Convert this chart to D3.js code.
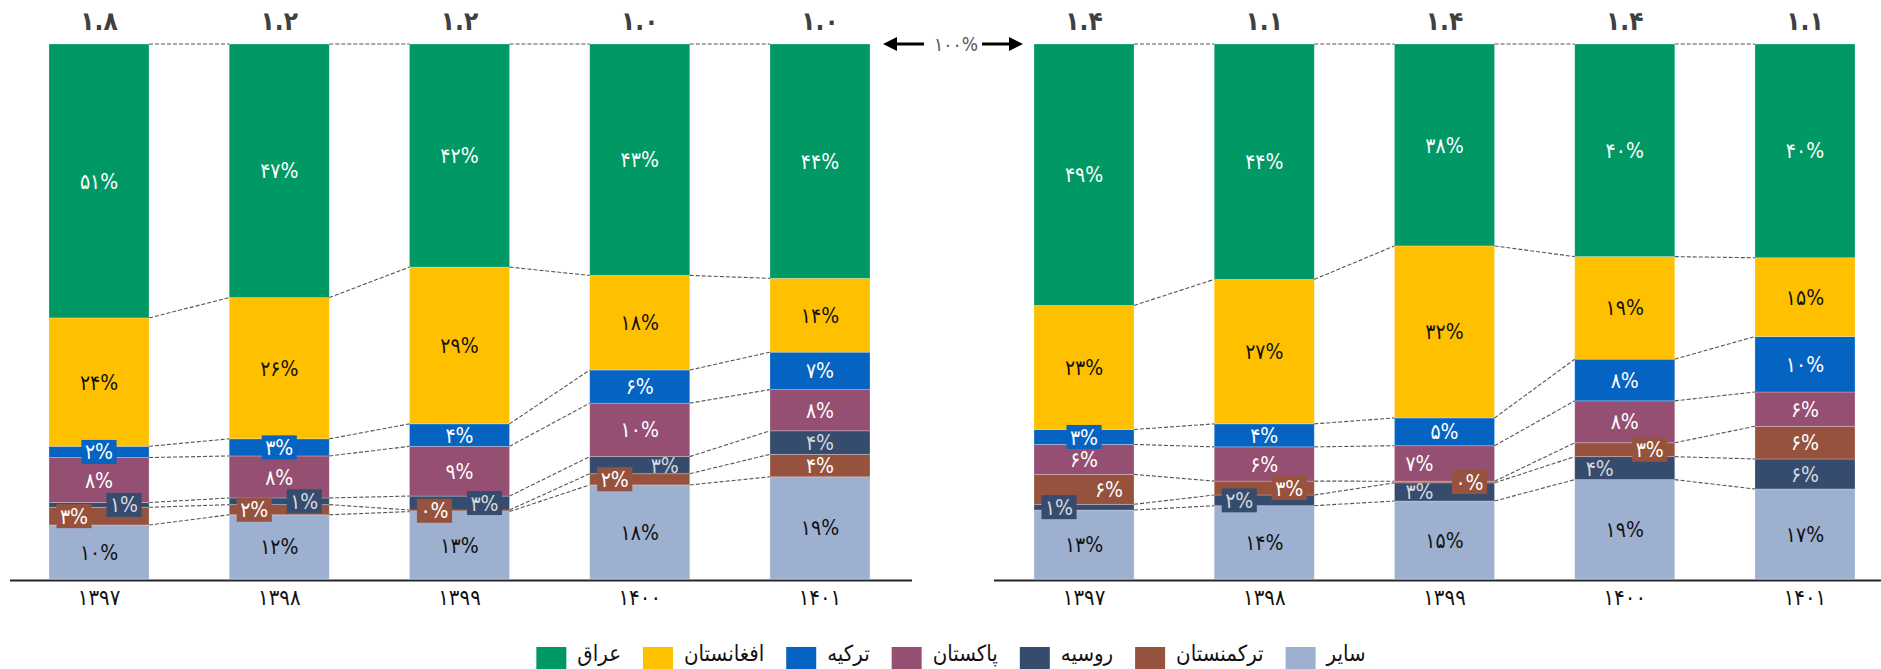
<!DOCTYPE html>
<html><head><meta charset="utf-8">
<script src="https://cdn.jsdelivr.net/npm/d3@7"></script>
<style>
html,body{margin:0;padding:0;background:#fff;}
svg{display:block;font-family:"DejaVu Sans Condensed","DejaVu Sans",sans-serif;}
</style></head>
<body>
<script>
// ---------------- DATA ----------------
const years = ["1397", "1398", "1399", "1400", "1401"];
const legendNames = ["عراق", "افغانستان", "ترکیه", "پاکستان", "روسیه", "ترکمنستان", "سایر"];
const stackOrderLeft = ["سایر", "ترکمنستان", "روسیه", "پاکستان", "ترکیه", "افغانستان", "عراق"];
const stackOrderRight = ["سایر", "روسیه", "ترکمنستان", "پاکستان", "ترکیه", "افغانستان", "عراق"];

// left panel shares (%)
const leftIraq        = [51.2, 47.4, 41.7, 43.3, 43.8];
const leftAfghanistan = [24.0, 26.4, 29.3, 17.7, 13.8];
const leftTurkey      = [2.1, 3.2, 4.2, 6.2, 7.0];
const leftPakistan    = [8.4, 7.85, 9.3, 10.0, 7.7];
const leftRussia      = [0.9, 1.25, 2.6, 3.2, 4.4];
const leftTurkmen     = [3.3, 1.9, 0.3, 2.1, 4.2];
const leftOther       = [10.1, 12.0, 12.6, 17.6, 19.1];
const leftTotals      = [1.8, 1.2, 1.2, 1.0, 1.0];

// right panel shares (%)
const rightIraq        = [48.9, 44.0, 37.8, 39.8, 39.9];
const rightAfghanistan = [23.2, 27.0, 32.2, 19.2, 14.7];
const rightTurkey      = [2.8, 4.3, 5.2, 7.8, 10.35];
const rightPakistan    = [5.6, 6.4, 6.65, 7.85, 6.4];
const rightTurkmen     = [5.6, 2.6, 0.3, 2.6, 6.1];
const rightRussia      = [1.07, 2.0, 3.4, 4.3, 5.6];
const rightOther       = [12.9, 13.7, 14.6, 18.6, 16.8];
const rightTotals      = [1.4, 1.1, 1.4, 1.4, 1.1];

const topLabel = "100%";

// ---------------- STYLE ----------------
const colors = {
  "عراق": "#009966", "افغانستان": "#FFC000", "ترکیه": "#0563C1", "پاکستان": "#954F72",
  "روسیه": "#364C6E", "ترکمنستان": "#97523D", "سایر": "#9DB0CF"
};
const textColors = {
  "عراق": "#ffffff", "افغانستان": "#111111", "ترکیه": "#ffffff", "پاکستان": "#ffffff",
  "روسیه": "#d6d9de", "ترکمنستان": "#ffffff", "سایر": "#111111"
};
// label horizontal nudges (-1 left, +1 right) and boxed labels
const leftNudge  = {"ترکمنستان": [-1,-1,-1,-1,0], "روسیه": [1,1,1,1,0]};
const rightNudge = {"روسیه": [-1,-1,-1,-1,0], "ترکمنستان": [1,1,1,1,0], "پاکستان": [0,0,-1,0,0]};
const leftBoxed  = {"ترکیه": [1,1,0,0,0], "ترکمنستان": [1,1,1,1,0], "روسیه": [1,1,1,0,0]};
const rightBoxed = {"ترکیه": [1,0,0,0,0], "ترکمنستان": [0,1,1,1,0], "روسیه": [1,1,0,0,0]};

const fa = s => String(s).replace(/[0-9]/g, d => "۰۱۲۳۴۵۶۷۸۹"[+d]);

const W = 1881, H = 669;
const svg = d3.select("body").append("svg").attr("width", W).attr("height", H);
const y = d3.scaleLinear().domain([0, 1]).range([579, 44]);

function drawPanel(cfg) {
  const g = svg.append("g");
  const x = d3.scaleBand().domain(years).range(cfg.range).paddingInner(0.445).paddingOuter(0);
  const bw = x.bandwidth();
  const rows = years.map((yr, i) => {
    const r = {year: yr};
    cfg.order.forEach(s => r[s] = cfg.values[s][i]);
    return r;
  });
  const stack = d3.stack().keys(cfg.order).offset(d3.stackOffsetExpand)(rows);

  // bars
  g.append("g").selectAll("g").data(stack).join("g")
    .attr("fill", d => colors[d.key])
    .selectAll("rect").data(d => d).join("rect")
    .attr("x", d => x(d.data.year)).attr("width", bw)
    .attr("y", d => y(d[1])).attr("height", d => y(d[0]) - y(d[1]))
    .attr("stroke", "#ffffff").attr("stroke-opacity", 0.3).attr("stroke-width", 0.8);

  // connectors
  const conn = [];
  stack.forEach(s => {
    for (let i = 0; i < years.length - 1; i++) {
      conn.push({x1: x(years[i]) + bw, y1: y(s[i][1]), x2: x(years[i + 1]), y2: y(s[i + 1][1])});
    }
  });
  g.append("g").selectAll("line").data(conn).join("line")
    .attr("x1", d => d.x1).attr("y1", d => d.y1).attr("x2", d => d.x2).attr("y2", d => d.y2)
    .attr("stroke", "#555").attr("stroke-width", 1.1).attr("stroke-dasharray", "4,2");

  // baseline
  g.append("line").attr("x1", cfg.axisX[0]).attr("x2", cfg.axisX[1])
    .attr("y1", y(0) + 1.5).attr("y2", y(0) + 1.5).attr("stroke", "#262626").attr("stroke-width", 2.2);

  // year axis
  const ax = g.append("g").attr("transform", `translate(0,${y(0) + 2})`)
    .call(d3.axisBottom(x).tickSize(0).tickPadding(8).tickFormat(fa));
  ax.select(".domain").remove();
  ax.selectAll("text").attr("font-size", 22).attr("fill", "#111")
    .attr("font-family", "'DejaVu Sans Condensed','DejaVu Sans',sans-serif");

  // totals
  g.append("g").selectAll("text").data(years).join("text")
    .attr("x", d => x(d) + bw / 2).attr("y", 21).attr("dy", "0.35em")
    .attr("text-anchor", "middle").attr("font-size", 26).attr("font-weight", "bold")
    .attr("fill", "#404040").text((d, i) => fa(cfg.totals[i].toFixed(1)));

  // segment labels
  const labels = [];
  stack.forEach(s => {
    s.forEach((d, i) => {
      const nud = (cfg.nudge[s.key] || [])[i] || 0;
      const box = (cfg.boxed[s.key] || [])[i] || 0;
      labels.push({
        key: s.key, box,
        cx: x(d.data.year) + bw / 2 + nud * 25,
        cy: (y(d[0]) + y(d[1])) / 2,
        text: fa(Math.round(cfg.values[s.key][i])) + "%"
      });
    });
  });
  const lg = g.append("g").selectAll("g").data(labels).join("g");
  lg.each(function(d) {
    const gg = d3.select(this);
    const t = gg.append("text").attr("x", d.cx).attr("y", d.cy).attr("dy", "0.36em")
      .attr("text-anchor", "middle").attr("font-size", 21).attr("fill", textColors[d.key]).text(d.text);
    if (d.box) {
      const w = t.node().getComputedTextLength() + 7;
      gg.insert("rect", "text").attr("x", d.cx - w / 2).attr("y", d.cy - 12)
        .attr("width", w).attr("height", 24).attr("fill", colors[d.key]);
    }
  });
  return x;
}

const xL = drawPanel({
  range: [49, 870], axisX: [10, 912], order: stackOrderLeft, totals: leftTotals,
  values: {"عراق": leftIraq, "افغانستان": leftAfghanistan, "ترکیه": leftTurkey, "پاکستان": leftPakistan,
           "روسیه": leftRussia, "ترکمنستان": leftTurkmen, "سایر": leftOther},
  nudge: leftNudge, boxed: leftBoxed
});
const xR = drawPanel({
  range: [1034, 1855], axisX: [994, 1881], order: stackOrderRight, totals: rightTotals,
  values: {"عراق": rightIraq, "افغانستان": rightAfghanistan, "ترکیه": rightTurkey, "پاکستان": rightPakistan,
           "روسیه": rightRussia, "ترکمنستان": rightTurkmen, "سایر": rightOther},
  nudge: rightNudge, boxed: rightBoxed
});

// 100% arrow between panels
const ay = y(1);
const la = xL.range()[1] + 13, ra = xR.range()[0] - 11;
const arrows = svg.append("g");
arrows.append("line").attr("x1", la + 12).attr("x2", la + 41).attr("y1", ay).attr("y2", ay).attr("stroke", "#000").attr("stroke-width", 3);
arrows.append("path").attr("d", `M${la},${ay}L${la + 14},${ay - 7}L${la + 14},${ay + 7}Z`).attr("fill", "#000");
arrows.append("line").attr("x1", ra - 41).attr("x2", ra - 12).attr("y1", ay).attr("y2", ay).attr("stroke", "#000").attr("stroke-width", 3);
arrows.append("path").attr("d", `M${ra},${ay}L${ra - 14},${ay - 7}L${ra - 14},${ay + 7}Z`).attr("fill", "#000");
arrows.append("text").attr("x", (la + ra) / 2 + 3).attr("y", ay).attr("dy", "0.35em").attr("text-anchor", "middle")
  .attr("font-size", 19).attr("fill", "#595959").text(fa(topLabel));

// legend
const leg = svg.append("g");
const items = leg.selectAll("g").data(legendNames).join("g");
items.append("rect").attr("width", 30).attr("height", 30).attr("y", 647).attr("fill", d => colors[d]);
items.append("text").attr("y", 653).attr("dy", "0.35em").attr("font-size", 22).attr("fill", "#111").text(d => d);
let cx = 0;
const widths = [];
items.each(function() { widths.push(d3.select(this).select("text").node().getComputedTextLength()); });
const total = widths.reduce((a, w) => a + 30 + 11 + w, 0) + 22 * (widths.length - 1);
cx = 951 - total / 2;
items.each(function(d, i) {
  const it = d3.select(this);
  it.select("rect").attr("x", cx);
  it.select("text").attr("x", cx + 41);
  cx += 30 + 11 + widths[i] + 22;
});
</script>
</body></html>
